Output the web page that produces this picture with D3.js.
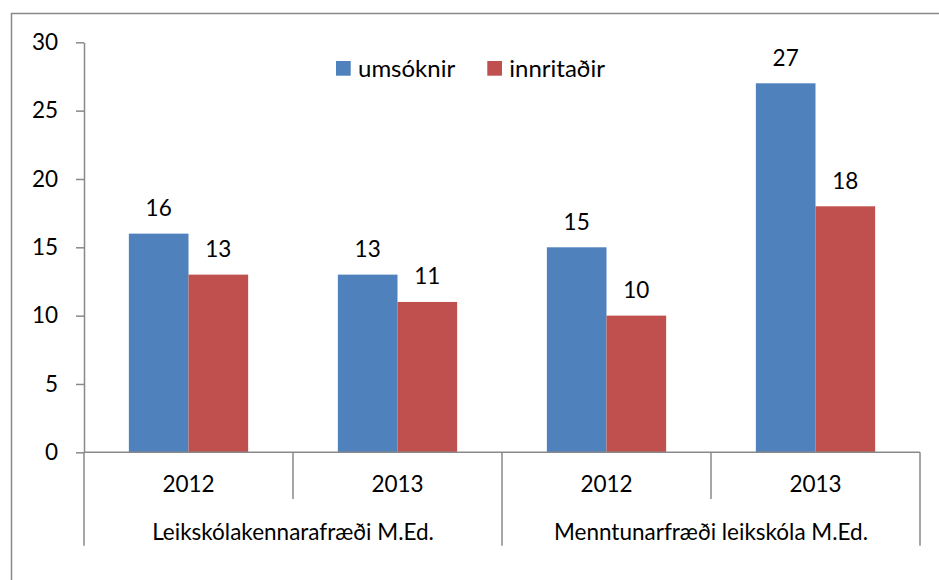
<!DOCTYPE html>
<html><head><meta charset="utf-8">
<script src="https://cdn.jsdelivr.net/npm/d3@7"></script>
<style>
html,body{margin:0;padding:0;background:#fff;}
svg{display:block;font-family:Lato, "Open Sans", sans-serif;}
</style></head>
<body>
<svg id="chart" width="939" height="580"></svg>
<script>
const groups = ["Leikskólakennarafræði M.Ed.", "Menntunarfræði leikskóla M.Ed."];
const years = ["2012", "2013", "2012", "2013"];
const groupOf = [0, 0, 1, 1];
const seriesNames = ["umsóknir", "innritaðir"];
const umsoknir = [16, 13, 15, 27];
const innritadir = [13, 11, 10, 18];
const yTicks = [0, 5, 10, 15, 20, 25, 30];
const colors = ["#4F81BD", "#C0504D"];

(function () {
const svg = d3.select("#chart");
const axisColor = "#898989";
const fs = 22.5;
const pLeft = 84, pRight = 920, pTop = 42.3, pBottom = 452.3;

// outer frame (top & left edges visible)
svg.append("line").attr("x1", 11).attr("x2", 939).attr("y1", 13.5).attr("y2", 13.5)
  .attr("stroke", axisColor).attr("stroke-width", 1.5);
svg.append("line").attr("x1", 11.5).attr("x2", 11.5).attr("y1", 13).attr("y2", 580)
  .attr("stroke", axisColor).attr("stroke-width", 1.5);

const idx = d3.range(umsoknir.length);
const x0 = d3.scaleBand().domain(idx).range([pLeft, pRight]).paddingInner(0).paddingOuter(0);
const x1 = d3.scaleBand().domain(seriesNames).range([0, x0.bandwidth()]).paddingInner(0).paddingOuter(0.752);
const y = d3.scaleLinear().domain([0, 30]).range([pBottom, pTop]);

const data = idx.map(i => ({i, vals: [umsoknir[i], innritadir[i]]}));

// bars
const g = svg.append("g");
data.forEach(d => {
  d.vals.forEach((v, s) => {
    const bx = x0(d.i) + x1(seriesNames[s]);
    g.append("rect")
      .attr("x", bx).attr("y", y(v))
      .attr("width", x1.bandwidth()).attr("height", y(0) - y(v))
      .attr("fill", colors[s]);
    g.append("text")
      .attr("x", bx + x1.bandwidth() / 2).attr("y", y(v) - 17.5)
      .attr("text-anchor", "middle").attr("font-size", fs).attr("fill", "#000")
      .text(v);
  });
});

// y axis
const yAxis = d3.axisLeft(y).tickValues(yTicks).tickSize(8).tickPadding(18).tickSizeOuter(0);
const ya = svg.append("g").attr("transform", `translate(${pLeft},0)`).call(yAxis);
ya.select(".domain").attr("stroke", axisColor).attr("stroke-width", 1.5);
ya.selectAll(".tick line").attr("stroke", axisColor).attr("stroke-width", 1.5);
ya.selectAll(".tick text").attr("font-size", fs).attr("font-family", "Lato").attr("fill", "#000");

// x axis baseline
svg.append("line").attr("x1", pLeft).attr("x2", pRight).attr("y1", pBottom).attr("y2", pBottom)
  .attr("stroke", axisColor).attr("stroke-width", 1.5);

// year labels and dividers
const yearDivBottom = 499, groupDivBottom = 545.7;
idx.forEach(i => {
  svg.append("text").attr("x", x0(i) + x0.bandwidth() / 2).attr("y", 492)
    .attr("text-anchor", "middle").attr("font-size", fs).attr("fill", "#000").text(years[i]);
});
const edges = idx.map(i => x0(i)).concat([pRight]);
edges.forEach((ex, k) => {
  const isGroupEdge = (k === 0 || k === edges.length - 1 || groupOf[k] !== groupOf[k - 1]);
  svg.append("line").attr("x1", ex).attr("x2", ex).attr("y1", pBottom).attr("y2", isGroupEdge ? groupDivBottom : yearDivBottom)
    .attr("stroke", axisColor).attr("stroke-width", 1.5);
});
// group labels
groups.forEach((name, gi) => {
  const members = idx.filter(i => groupOf[i] === gi);
  const gx0 = x0(members[0]), gx1 = x0(members[members.length - 1]) + x0.bandwidth();
  svg.append("text").attr("x", (gx0 + gx1) / 2).attr("y", 539.5)
    .attr("text-anchor", "middle").attr("font-size", fs).attr("fill", "#000").text(name);
});

// legend
const legendX = [336, 487.3];
seriesNames.forEach((n, s) => {
  svg.append("rect").attr("x", legendX[s]).attr("y", 61).attr("width", 14.7).attr("height", 14.7).attr("fill", colors[s]);
  svg.append("text").attr("x", legendX[s] + 22).attr("y", 77).attr("font-size", 24).attr("fill", "#000").text(n);
});
})();
</script>
</body></html>
